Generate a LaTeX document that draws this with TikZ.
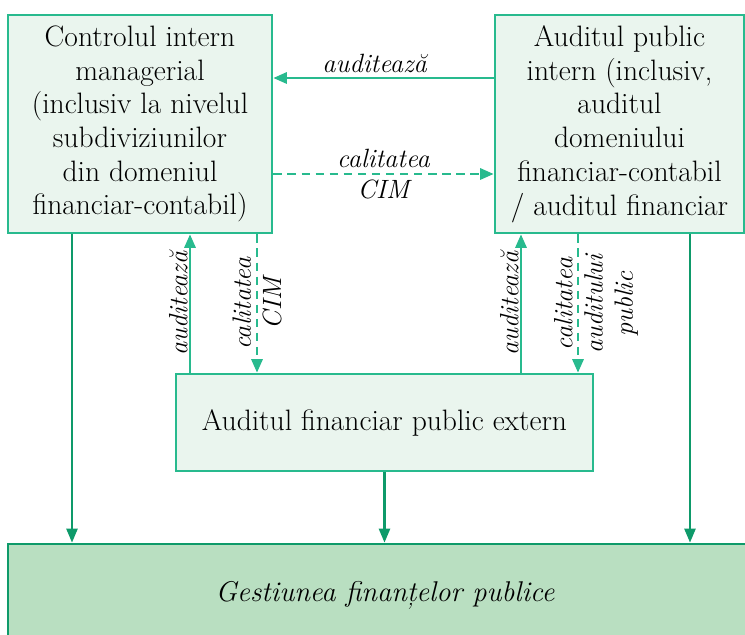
\documentclass[tikz,border=0pt]{standalone}
\usepackage{tikz}
\usetikzlibrary{arrows.meta}
\definecolor{boxline}{RGB}{40,186,142}
\definecolor{boxfill}{RGB}{234,245,238}
\definecolor{darkline}{RGB}{14,154,106}
\definecolor{gfpfill}{RGB}{185,223,193}

\begin{document}
\begin{tikzpicture}[x=0.025cm,y=-0.025cm,
  box/.style={draw=boxline,line width=2pt,fill=boxfill,align=center,inner sep=0pt,
    font=\fontsize{21}{24}\selectfont},
  arr/.style={boxline,line width=1.5pt,-{Triangle[length=9.5pt,width=8pt]}},
  darr/.style={arr,dash pattern=on 6pt off 4pt},
  down/.style={darkline,line width=1.5pt,-{Triangle[length=10pt,width=8pt]}},
  lbl/.style={text=black,font=\fontsize{18.8}{21.5}\selectfont\itshape,align=center,inner sep=1pt}]
\useasboundingbox (0,0) rectangle (745,635);
%%%% boxes
\node[box,minimum width=264*0.025cm,minimum height=218*0.025cm] (cim) at (140,124)
  {Controlul intern\\managerial\\(inclusiv la nivelul\\subdiviziunilor\\din domeniul\\financiar-contabil)};
\node[box,minimum width=249*0.025cm,minimum height=218*0.025cm] (apic) at (619.5,124)
  {Auditul public\\intern (inclusiv,\\auditul\\domeniului\\financiar-contabil\\/ auditul financiar};
\node[box,minimum width=417*0.025cm,minimum height=97*0.025cm] (afpe) at (384.5,422.5)
  {Auditul financiar public extern};
\node[box,draw=darkline,fill=gfpfill,minimum width=754*0.025cm,minimum height=102*0.025cm,
  font=\fontsize{20.3}{24}\selectfont\itshape] (gfp) at (385,595)
  {Gestiunea finanțelor publice};
%
%%%% top arrows
\draw[arr] (apic.west |- 0,78) -- (cim.east |- 0,78) node[lbl,pos=0.54,above=2pt]{auditează};
\draw[darr] (cim.east |- 0,174) -- (apic.west |- 0,174) node[lbl,midway]{calitatea\\CIM};
%%%% vertical arrows
\draw[arr] (afpe.north -| 190,0) -- (cim.south -| 190,0) node[lbl,midway,rotate=90,anchor=south]{auditează};
\draw[darr] (cim.south -| 257,0) -- (afpe.north -| 257,0) node[lbl,midway,rotate=90]{calitatea\\CIM};
\draw[arr] (afpe.north -| 521,0) -- (apic.south -| 521,0) node[lbl,midway,rotate=90,anchor=south]{auditează};
\draw[darr] (apic.south -| 578,0) -- (afpe.north -| 578,0);
\node[lbl,rotate=90] (pub) at (596,304) {calitatea\\auditului\\public};
%%%% to the bottom box
\draw[down] (cim.south -| 72,0) -- (gfp.north -| 72,0);
\draw[down] (afpe.south) -- (gfp.north -| afpe.south);
\draw[down] (apic.south -| 690,0) -- (gfp.north -| 690,0);
\end{tikzpicture}
\end{document}
